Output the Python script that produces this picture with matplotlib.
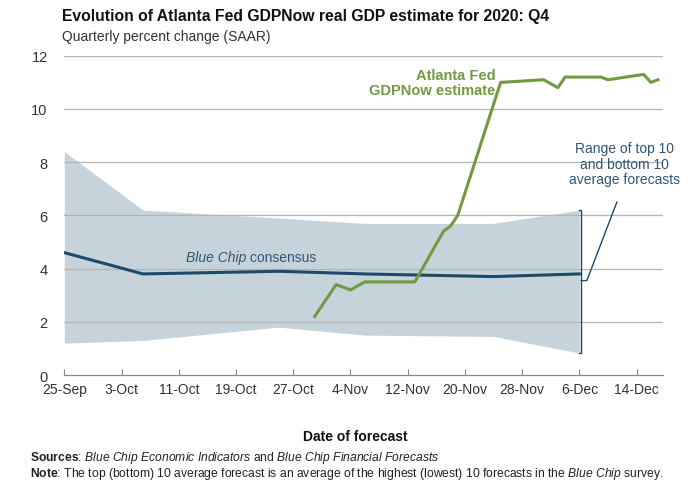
import numpy as np
import pandas as pd
import matplotlib
matplotlib.use('Agg')
import matplotlib.pyplot as plt

plt.rcParams['font.family'] = ['Liberation Sans', 'DejaVu Sans']
plt.rcParams['mathtext.fontset'] = 'custom'
plt.rcParams['mathtext.rm'] = 'Liberation Sans'
plt.rcParams['mathtext.it'] = 'Liberation Sans:italic'
plt.rcParams['mathtext.bf'] = 'Liberation Sans:bold'

# Blue Chip band and consensus
bc_dates = ['2020-09-25', '2020-10-06', '2020-10-25', '2020-11-06', '2020-11-24', '2020-12-06']
bc_upper = [8.4, 6.2, 5.9, 5.7, 5.7, 6.2]
bc_lower = [1.2, 1.3, 1.8, 1.5, 1.45, 0.83]
bc_consensus = [4.6, 3.8, 3.9, 3.8, 3.7, 3.8]

# Atlanta Fed GDPNow
gdp_dates = ['2020-10-30', '2020-11-02', '2020-11-04', '2020-11-06', '2020-11-13', '2020-11-17',
             '2020-11-18', '2020-11-19', '2020-11-25', '2020-12-01', '2020-12-03', '2020-12-04',
             '2020-12-09', '2020-12-10', '2020-12-15', '2020-12-16', '2020-12-17']
gdp_now = [2.2, 3.4, 3.2, 3.5, 3.5, 5.4, 5.6, 6.0, 11.0, 11.1, 10.8, 11.2,
           11.2, 11.1, 11.3, 11.0, 11.1]

tick_dates = ['2020-09-25', '2020-10-03', '2020-10-11', '2020-10-19', '2020-10-27', '2020-11-04',
              '2020-11-12', '2020-11-20', '2020-11-28', '2020-12-06', '2020-12-14']
tick_labels = ['25-Sep', '3-Oct', '11-Oct', '19-Oct', '27-Oct', '4-Nov',
               '12-Nov', '20-Nov', '28-Nov', '6-Dec', '14-Dec']

bc_x = pd.to_datetime(bc_dates)
gdp_x = pd.to_datetime(gdp_dates)
tick_x = pd.to_datetime(tick_dates)

band_col = '#c6d3db'
navy = '#1d4a68'
green = '#719a41'
text_navy = '#2f5775'
grid_col = '#b4b4b4'

fig = plt.figure(figsize=(6.88, 4.85), dpi=100)
ax = fig.add_axes([0.0935, 0.2247, 0.8702, 0.6582])

ax.fill_between(bc_x, bc_lower, bc_upper, color=band_col, lw=0, zorder=1)
for y in [2, 4, 6, 8, 10, 12]:
	ax.axhline(y, color=grid_col, lw=0.9, zorder=2)
ax.plot(bc_x, bc_consensus, color=navy, lw=2.2, zorder=3)
ax.plot(gdp_x, gdp_now, color=green, lw=2.2, zorder=4)

ax.set_ylim(0, 12)
ax.set_xlim(pd.Timestamp('2020-09-25'), pd.Timestamp('2020-09-25') + pd.Timedelta(days=83.7))
ax.set_yticks([0, 2, 4, 6, 8, 10, 12])
ax.set_xticks(tick_x)
ax.set_xticklabels(tick_labels)
ax.tick_params(axis='y', length=0, pad=12, labelsize=10.5, labelcolor='#333333')
ax.tick_params(axis='x', length=4, direction='in', color='#888888', pad=5,
               labelsize=10, labelcolor='#333333')
for s in ['top', 'right', 'left']:
	ax.spines[s].set_visible(False)
ax.spines['bottom'].set_color('#888888')
ax.spines['bottom'].set_linewidth(0.9)

# bracket for the band at the last Blue Chip date
bx = bc_x[-1] + pd.Timedelta(hours=6)
bl = bx - pd.Timedelta(days=0.3)
br = bx + pd.Timedelta(days=0.8)
ax.plot([bl, bx, bx, bl], [bc_upper[-1], bc_upper[-1], bc_lower[-1], bc_lower[-1]],
        color=navy, lw=1.0, zorder=5, clip_on=False)
ax.plot([bx, br, pd.Timestamp('2020-12-11') + pd.Timedelta(hours=6)], [3.55, 3.55, 6.5],
        color=navy, lw=1.0, zorder=5, clip_on=False)

ax.text(pd.Timestamp('2020-12-12') + pd.Timedelta(hours=6), 7.95,
        'Range of top 10\nand bottom 10\naverage forecasts',
        ha='center', va='center', fontsize=10, color=text_navy, linespacing=1.15)

ax.text(pd.Timestamp('2020-11-24') + pd.Timedelta(hours=6), 11.0,
        'Atlanta Fed\nGDPNow estimate', ha='right', va='center', fontsize=10.5,
        fontweight='bold', color=green, linespacing=1.15)

t1 = ax.text(pd.Timestamp('2020-10-12'), 4.45, 'Blue Chip', style='italic', ha='left',
             va='center', fontsize=10, color=text_navy)
ax.annotate(' consensus', xy=(1, 0.5), xycoords=t1, ha='left', va='center',
            fontsize=10, color=text_navy)

fig.text(62 / 688, 1 - 17 / 485, 'Evolution of Atlanta Fed GDPNow real GDP estimate for 2020: Q4',
         fontsize=11.3, fontweight='bold', ha='left', va='center', color='#111111')
fig.text(62 / 688, 1 - 37 / 485, 'Quarterly percent change (SAAR)', fontsize=10,
         ha='left', va='center', color='#333333')

fig.text(355 / 688, 1 - 437 / 485, 'Date of forecast', fontsize=10, fontweight='bold',
         ha='center', va='center', color='#111111')

fig.text(30 / 688, 1 - 458 / 485, r'$\mathbf{Sources}$: $\mathit{Blue\ Chip\ Economic\ Indicators}$ and '
         r'$\mathit{Blue\ Chip\ Financial\ Forecasts}$', fontsize=8.7, ha='left', va='center',
         color='#222222')
fig.text(30 / 688, 1 - 474 / 485, r'$\mathbf{Note}$: The top (bottom) 10 average forecast is an average '
         r'of the highest (lowest) 10 forecasts in the $\mathit{Blue\ Chip}$ survey.', fontsize=8.7,
         ha='left', va='center', color='#222222')

fig.savefig('out.png', dpi=100)
